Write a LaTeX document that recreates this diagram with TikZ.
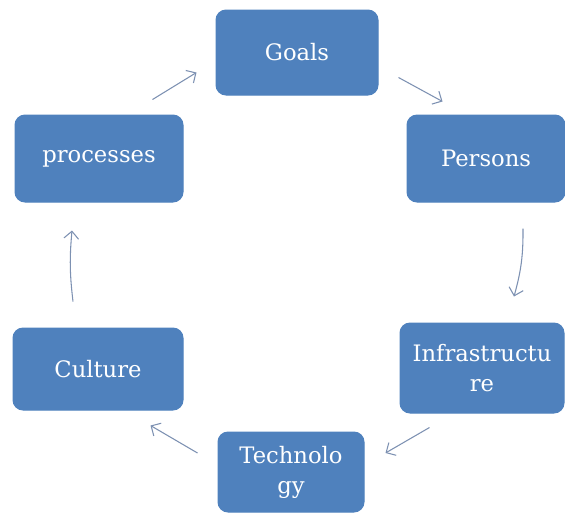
\documentclass[tikz,border=0pt]{standalone}
\usepackage{fontspec}
\setmainfont{DejaVu Serif}
\usetikzlibrary{arrows.meta,calc}

\definecolor{boxblue}{RGB}{79,129,189}
\definecolor{linkgray}{RGB}{125,145,178}

\tikzset{
	stage/.style={rectangle, rounded corners=7.5pt, fill=boxblue, draw=boxblue,
		text=white, inner sep=0pt, align=center,
		font=\fontsize{17}{22.5}\selectfont},
	link/.style={draw=linkgray, line width=0.8pt,
		-{Straight Barb[length=5.5pt,width=11pt,line width=0.8pt]}}}
\tikzset{every picture/.style={line width=0.75pt}}

\begin{document}
\begin{tikzpicture}[x=0.75pt,y=-0.75pt]
	\useasboundingbox (0,0) rectangle (565,512);

	%Shape: Rounded Rect [id:goals]
	\node[stage, minimum width=121.5pt, minimum height=63.75pt] (goals) at (297,52.5) {Goals};
	%Shape: Rounded Rect [id:persons]
	\node[stage, minimum width=118.5pt, minimum height=65.25pt] (persons) at (486,158.5) {Persons};
	%Shape: Rounded Rect [id:infra]
	\node[stage, minimum width=123pt, minimum height=67.5pt] (infra) at (482,368) {Infrastructu\\re};
	%Shape: Rounded Rect [id:techno]
	\node[stage, minimum width=109.5pt, minimum height=60pt] (techno) at (291,472) {Technolo\\gy};
	%Shape: Rounded Rect [id:culture]
	\node[stage, minimum width=127.5pt, minimum height=61.5pt] (culture) at (98,369) {Culture};
	%Shape: Rounded Rect [id:procs]
	\node[stage, minimum width=126pt, minimum height=65.25pt] (procs) at (99,158.5) {processes};

	%Straight Lines [id:cycle]
	\draw[link] ($(procs.north east)+(-31,-15)$) -- ($(goals.south west)+(-19,-23)$);
	\draw[link] ($(goals.south east)+(20,-18)$) -- ($(persons.north west)+(36,-13)$);
	\draw[link] ($(persons.south)+(37,26)$) to[bend left=8] ($(infra.north)+(32,-26)$);
	\draw[link] ($(infra.south west)+(30,14)$) -- ($(techno.east)+(21,-19)$);
	\draw[link] ($(techno.west)+(-20,-19)$) -- ($(culture.south east)+(-33,15)$);
	\draw[link] ($(culture.north)+(-25,-26)$) to[bend left=6] ($(procs.south)+(-27,28)$);

\end{tikzpicture}
\end{document}
